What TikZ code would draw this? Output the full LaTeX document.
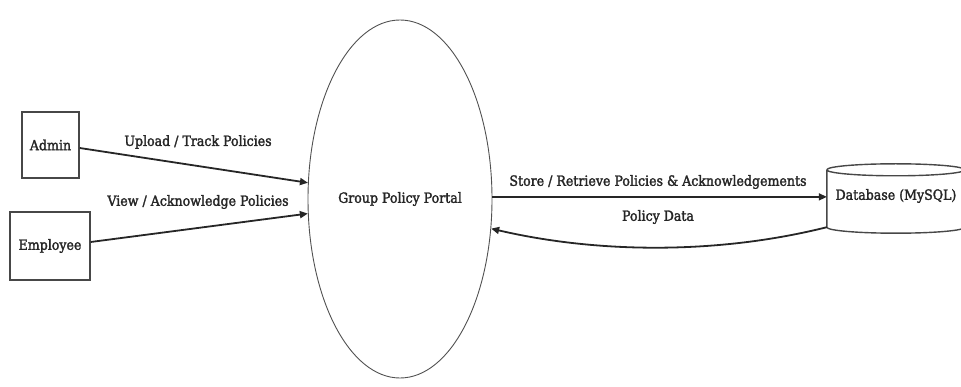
\documentclass[tikz,border=0pt]{standalone}
\usepackage{fontspec}
\setmainfont{DejaVu Serif Condensed}[FakeBold=2]
\usetikzlibrary{shapes.geometric,arrows.meta}
\definecolor{ink}{HTML}{262626}
\tikzset{
  txt/.style={font=\fontsize{14}{16}\selectfont, text=ink},
  lbl/.style={txt, inner sep=0},
  entity/.style={txt, draw=ink!85, line width=1.4pt, inner sep=0},
  flow/.style={draw=ink, line width=1.8pt, -{Triangle[length=8pt,width=7pt]}},
}
\begin{document}
\begin{tikzpicture}[x=1pt,y=-1pt]
  \useasboundingbox (0,0) rectangle (961,387);
  \begin{scope}
  \clip (0,0) rectangle (961,387);

  % external entities
  \node[entity, minimum width=57pt, minimum height=66pt] (admin) at (50.5,145) {Admin};
  \node[entity, minimum width=80pt, minimum height=68pt] (emp) at (50,246) {Employee};

  % central process
  \node[txt, ellipse, draw=ink!80, line width=0.9pt, minimum width=184pt, minimum height=358pt, inner sep=0]
        (portal) at (400,199) {Group Policy Portal};

  % data store
  \node[txt, inner sep=0, minimum width=138pt, minimum height=62pt] (db) at (896,196) {Database (MySQL)};
  \draw[draw=ink!85, line width=1.4pt]
    (db.north west) ++(0,5) coordinate (dbtl)
    (dbtl) arc[start angle=180, end angle=-180, x radius=69pt, y radius=6pt]
    (dbtl) -- (db.south west) arc[start angle=180, end angle=360, x radius=69pt, y radius=6pt]
    -- (dbtl -| db.south east);

  % data flows
  \draw[flow] (admin.east) ++(0,3) coordinate (a0) (a0) -- (portal.170);
  \draw[flow] (emp.east) ++(0,-4) coordinate (e0) (e0) -- (portal.189);
  \draw[flow] (portal.1) ++(0,-0.5) coordinate (p0) (p0) -- (p0 -| db.west);
  \draw[flow] (db.south west) .. controls (720,254) and (600,254) .. (portal.-18);

  % flow labels
  \node[lbl] at (198,142) {Upload / Track Policies};
  \node[lbl] at (198,202) {View / Acknowledge Policies};
  \node[lbl] at (658,182) {Store / Retrieve Policies \& Acknowledgements};
  \node[lbl] at (658,217) {Policy Data};
  \end{scope}
\end{tikzpicture}
\end{document}
